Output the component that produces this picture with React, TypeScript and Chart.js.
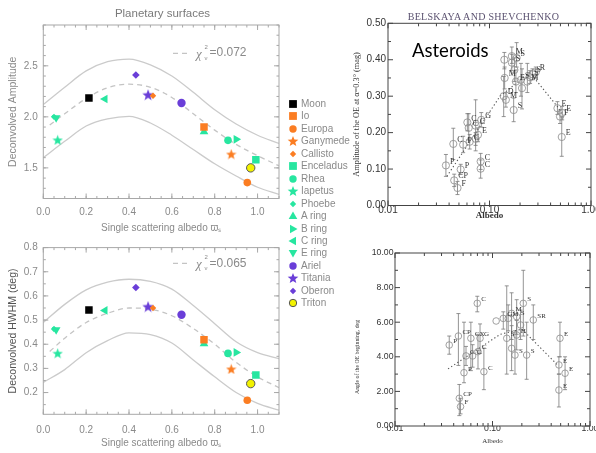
import React, { useEffect, useRef } from 'react';
import { Chart, registerables } from 'chart.js';
Chart.register(...registerables);

// ---------------- DATA ----------------
const bodyNames = ['Moon', 'Io', 'Europa', 'Ganymede', 'Callisto', 'Enceladus', 'Rhea', 'Iapetus', 'Phoebe', 'A ring', 'B ring', 'C ring', 'E ring', 'Ariel', 'Titania', 'Oberon', 'Triton'];
const bodyAlbedo = [0.213, 0.75, 0.952, 0.877, 0.512, 0.992, 0.862, 0.067, 0.05, 0.75, 0.9, 0.288, 0.06, 0.645, 0.489, 0.432, 0.968];
const bodyAmplitude = [2.185, 1.9, 1.356, 1.636, 2.207, 1.58, 1.77, 1.775, 2.0, 1.855, 1.78, 2.175, 1.99, 2.136, 2.217, 2.41, 1.5];
const bodyHwhm = [0.542, 0.419, 0.168, 0.298, 0.55, 0.273, 0.362, 0.363, 0.463, 0.402, 0.366, 0.54, 0.46, 0.522, 0.556, 0.635, 0.237];

const envX = [0, 0.1, 0.2, 0.3, 0.4, 0.5, 0.6, 0.7, 0.8, 0.9, 1.0, 1.1];
const fitX = [0.03, 0.1, 0.2, 0.3, 0.4, 0.5, 0.6, 0.7, 0.8, 0.9, 1.0, 1.1];
const ampUpper = [2.12, 2.29, 2.45, 2.54, 2.565, 2.51, 2.4, 2.24, 2.07, 1.93, 1.82, 1.74];
const ampLower = [1.6, 1.76, 1.91, 1.98, 2.005, 1.94, 1.82, 1.68, 1.54, 1.42, 1.31, 1.24];
const ampFit = [1.92, 2.03, 2.18, 2.285, 2.32, 2.29, 2.19, 2.03, 1.87, 1.73, 1.62, 1.52];
const hwhmUpper = [0.49, 0.565, 0.625, 0.657, 0.669, 0.66, 0.628, 0.56, 0.485, 0.41, 0.365, 0.34];
const hwhmLower = [0.242, 0.295, 0.365, 0.415, 0.447, 0.44, 0.405, 0.335, 0.265, 0.2, 0.155, 0.127];
const hwhmFit = [0.37, 0.425, 0.49, 0.528, 0.55, 0.545, 0.518, 0.465, 0.4, 0.325, 0.265, 0.22];

const leftXTicks = [0, 0.2, 0.4, 0.6, 0.8, 1.0];
const leftXLabels = ['0.0', '0.2', '0.4', '0.6', '0.8', '1.0'];
const ampTicks = [1.5, 2.0, 2.5];
const ampLabels = ['1.5', '2.0', '2.5'];
const hwhmTicks = [0.2, 0.3, 0.4, 0.5, 0.6, 0.7, 0.8];
const hwhmLabels = ['0.2', '0.3', '0.4', '0.5', '0.6', '0.7', '0.8'];

// Asteroids: amplitude of the opposition effect
const astAlbedo = [0.0372, 0.044, 0.0449, 0.0484, 0.052, 0.055, 0.0638, 0.0624, 0.0605, 0.073, 0.083, 0.077, 0.073, 0.0818, 0.0818, 0.138, 0.14, 0.141, 0.145, 0.166, 0.166, 0.176, 0.182, 0.173, 0.185, 0.204, 0.209, 0.236, 0.251, 0.265, 0.286, 0.467, 0.495, 0.52, 0.515];
const astAmp = [0.11, 0.169, 0.069, 0.048, 0.099, 0.167, 0.175, 0.213, 0.228, 0.219, 0.235, 0.194, 0.183, 0.121, 0.101, 0.3, 0.4, 0.35, 0.29, 0.41, 0.392, 0.372, 0.34, 0.262, 0.405, 0.345, 0.322, 0.34, 0.352, 0.36, 0.366, 0.267, 0.244, 0.254, 0.188];
const astAmpLo = [0.08, 0.126, 0.052, 0.03, 0.085, 0.145, 0.155, 0.18, 0.205, 0.15, 0.215, 0.175, 0.165, 0.099, 0.075, 0.244, 0.375, 0.32, 0.27, 0.39, 0.37, 0.34, 0.31, 0.23, 0.38, 0.3, 0.265, 0.31, 0.335, 0.345, 0.35, 0.25, 0.225, 0.235, 0.135];
const astAmpHi = [0.14, 0.212, 0.086, 0.066, 0.113, 0.19, 0.195, 0.252, 0.252, 0.29, 0.255, 0.213, 0.2, 0.143, 0.125, 0.354, 0.42, 0.38, 0.31, 0.435, 0.415, 0.405, 0.372, 0.295, 0.447, 0.39, 0.375, 0.39, 0.37, 0.375, 0.38, 0.285, 0.262, 0.272, 0.243];
const astAmpTag = ['P', 'C', 'CP', 'F', 'P', 'F', 'C', 'C', 'C', 'C', 'G', 'E', '', 'C', 'C', 'D', '', 'M', 'M', 'M', 'S', '', 'E', 'S', 'S', 'S', '', 'M', 'S', 'S', 'R', 'E', 'F', 'E', 'E'];
const ampTrendX = [0.038, 0.127, 0.25, 0.52];
const ampTrendY = [0.08, 0.3, 0.365, 0.255];

// Asteroids: angle of the opposition effect beginning
const angAlbedo = [0.036, 0.0447, 0.051, 0.0535, 0.0457, 0.047, 0.06, 0.0698, 0.0745, 0.071, 0.0816, 0.0625, 0.109, 0.129, 0.14, 0.145, 0.157, 0.157, 0.17, 0.177, 0.177, 0.207, 0.194, 0.224, 0.262, 0.492, 0.48, 0.555, 0.48];
const angValue = [4.68, 5.2, 3.08, 4.05, 1.6, 1.12, 5.07, 7.09, 5.07, 4.3, 3.14, 4.05, 6.07, 6.22, 5.07, 6.22, 6.51, 4.49, 4.1, 6.32, 5.26, 7.09, 5.84, 4.1, 6.13, 5.07, 3.53, 3.05, 2.08];
const angLo = [4.15, 3.5, 2.5, 3.5, 0.6, 0.7, 3.2, 6.6, 4.2, 3.3, 2.1, 3.4, 6.07, 5.6, 3.0, 5.5, 5.0, 3.2, 3.0, 5.3, 4.4, 5.2, 5.0, 2.7, 5.0, 4.0, 3.0, 2.1, 1.1];
const angHi = [5.2, 6.5, 6.0, 4.6, 2.4, 1.6, 6.0, 7.5, 5.9, 5.3, 4.5, 4.7, 6.07, 6.6, 8.1, 7.0, 7.7, 5.8, 5.5, 7.3, 6.1, 9.0, 6.7, 6.0, 7.0, 6.0, 4.0, 4.0, 3.0];
const angTag = ['P', 'CP', 'P', 'C', 'CP', 'F', 'CX', 'C', 'G', 'C', 'C', 'C', '', 'G', 'S', 'M', 'M', '', 'S', 'S', 'H', 'S', '', 'S', 'SR', 'E', 'E', 'E', 'E'];
const angTrendX = [0.035, 0.12, 0.2, 0.47];
const angTrendY = [3.3, 5.3, 5.6, 3.5];

const logTicks = [0.01, 0.1, 1];
const logLabels = ['0.01', '0.10', '1.00'];
const logMinor = [0.02, 0.03, 0.04, 0.05, 0.06, 0.07, 0.08, 0.09, 0.2, 0.3, 0.4, 0.5, 0.6, 0.7, 0.8, 0.9];
const astAmpTicks = [0, 0.1, 0.2, 0.3, 0.4, 0.5];
const astAmpLabels = ['0.00', '0.10', '0.20', '0.30', '0.40', '0.50'];
const angTicks = [0, 2, 4, 6, 8, 10];
const angLabels = ['0.00', '2.00', '4.00', '6.00', '8.00', '10.00'];

// ---------------- STYLES ----------------
const SANS = '"Liberation Sans", Arial, Helvetica, sans-serif';
const SERIF = '"Liberation Serif", "Times New Roman", serif';
const ORANGE = '#fb7d22';
const GREEN = '#27e6a0';
const PURPLE = '#6a3ed8';
const GRAYTXT = '#8a8a8a';
const bodyColor = ['#000000', ORANGE, ORANGE, ORANGE, ORANGE, GREEN, GREEN, GREEN, GREEN, GREEN, GREEN, GREEN, GREEN, PURPLE, PURPLE, PURPLE, '#f2f200'];
const bodyShape = ['square', 'square', 'circle', 'star', 'diamond', 'square', 'circle', 'star', 'diamond', 'triUp', 'triRight', 'triLeft', 'triDown', 'circle', 'star', 'diamond', 'circle'];

const pts = (xs: number[], ys: number[]) => xs.map((x, i) => ({ x, y: ys[i] }));

function starCanvas(d: number, color: string) {
  const c = document.createElement('canvas');
  c.width = d;
  c.height = d;
  const g = c.getContext('2d')!;
  const R = d / 2;
  const r = R * 0.42;
  g.beginPath();
  for (let k = 0; k < 10; k++) {
    const a = -Math.PI / 2 + (k * Math.PI) / 5;
    const rr = k % 2 ? r : R;
    g.lineTo(R + rr * Math.cos(a), R + 0.6 + rr * Math.sin(a));
  }
  g.closePath();
  g.fillStyle = color;
  g.fill();
  return c;
}

type Deco = {
  lines?: { x0: number; y0: number; x1: number; y1: number; color: string; width: number; dash?: number[] }[];
  texts?: { t: string; x: number; y: number; font: string; color: string; rot?: number; align?: CanvasTextAlign }[];
};

function decoPlugin(d: Deco) {
  return {
    id: 'deco',
    afterDraw(chart: any) {
      const ctx: CanvasRenderingContext2D = chart.ctx;
      ctx.save();
      (d.lines || []).forEach((l) => {
        ctx.beginPath();
        ctx.setLineDash(l.dash || []);
        ctx.strokeStyle = l.color;
        ctx.lineWidth = l.width;
        ctx.moveTo(l.x0, l.y0);
        ctx.lineTo(l.x1, l.y1);
        ctx.stroke();
      });
      ctx.setLineDash([]);
      (d.texts || []).forEach((t) => {
        ctx.save();
        ctx.translate(t.x, t.y);
        if (t.rot) ctx.rotate((t.rot * Math.PI) / 180);
        ctx.font = t.font;
        ctx.fillStyle = t.color;
        ctx.textAlign = t.align || 'left';
        ctx.textBaseline = 'middle';
        ctx.fillText(t.t, 0, 0);
        ctx.restore();
      });
      ctx.restore();
    },
  };
}

function framePlugin(f: { color: string; lw: number; xMajor: number[]; xMinor: number[]; yMajor: number[]; yMinor: number[]; major: number; minor: number }) {
  return {
    id: 'frame',
    afterDatasetsDraw(chart: any) {
      const { ctx, chartArea: a, scales } = chart;
      const x = scales.x;
      const y = scales.y;
      ctx.save();
      ctx.strokeStyle = f.color;
      ctx.lineWidth = f.lw;
      ctx.strokeRect(a.left, a.top, a.right - a.left, a.bottom - a.top);
      ctx.beginPath();
      const tx = (vals: number[], len: number) =>
        vals.forEach((v) => {
          const p = x.getPixelForValue(v);
          if (p < a.left - 0.5 || p > a.right + 0.5) return;
          ctx.moveTo(p, a.bottom);
          ctx.lineTo(p, a.bottom - len);
          ctx.moveTo(p, a.top);
          ctx.lineTo(p, a.top + len);
        });
      const ty = (vals: number[], len: number) =>
        vals.forEach((v) => {
          const p = y.getPixelForValue(v);
          if (p < a.top - 0.5 || p > a.bottom + 0.5) return;
          ctx.moveTo(a.left, p);
          ctx.lineTo(a.left + len, p);
          ctx.moveTo(a.right, p);
          ctx.lineTo(a.right - len, p);
        });
      tx(f.xMajor, f.major);
      tx(f.xMinor, f.minor);
      ty(f.yMajor, f.major);
      ty(f.yMinor, f.minor);
      ctx.stroke();
      ctx.restore();
    },
  };
}

function errPlugin(e: { xs: number[]; lo: number[]; hi: number[]; ys: number[]; tags: string[]; font: string; cap: number }) {
  return {
    id: 'errtags',
    beforeDatasetsDraw(chart: any) {
      const { ctx, scales } = chart;
      ctx.save();
      ctx.strokeStyle = '#7a7a7a';
      ctx.lineWidth = 0.8;
      ctx.beginPath();
      e.xs.forEach((xv, i) => {
        if (e.lo[i] === e.hi[i]) return;
        const px = scales.x.getPixelForValue(xv);
        const pl = scales.y.getPixelForValue(e.lo[i]);
        const ph = scales.y.getPixelForValue(e.hi[i]);
        ctx.moveTo(px, pl);
        ctx.lineTo(px, ph);
        ctx.moveTo(px - e.cap, pl);
        ctx.lineTo(px + e.cap, pl);
        ctx.moveTo(px - e.cap, ph);
        ctx.lineTo(px + e.cap, ph);
      });
      ctx.stroke();
      ctx.restore();
    },
    afterDatasetsDraw(chart: any) {
      const { ctx, scales } = chart;
      ctx.save();
      ctx.fillStyle = '#333';
      ctx.font = e.font;
      ctx.textBaseline = 'middle';
      e.xs.forEach((xv, i) => {
        if (!e.tags[i]) return;
        const px = scales.x.getPixelForValue(xv);
        const py = scales.y.getPixelForValue(e.ys[i]);
        ctx.fillText(e.tags[i], px + 4, py - 4);
      });
      ctx.restore();
    },
  };
}

function bodyDatasets(values: number[]) {
  return bodyNames.map((name, i) => {
    const shape = bodyShape[i];
    const color = bodyColor[i];
    let pointStyle: any = 'circle';
    let radius = 3.8;
    let rotation = 0;
    if (shape === 'square') { pointStyle = 'rect'; radius = 5.3; }
    else if (shape === 'circle') { radius = name === 'Ariel' || name === 'Triton' ? 4.2 : 3.8; }
    else if (shape === 'star') { pointStyle = starCanvas(name === 'Titania' ? 12 : 11, color); radius = 5; }
    else if (shape === 'diamond') { pointStyle = 'rectRot'; radius = name === 'Oberon' ? 3.8 : 3.2; }
    else if (shape === 'triUp') { pointStyle = 'triangle'; radius = 5; }
    else if (shape === 'triRight') { pointStyle = 'triangle'; radius = 5; rotation = 90; }
    else if (shape === 'triLeft') { pointStyle = 'triangle'; radius = 5; rotation = 270; }
    else if (shape === 'triDown') { pointStyle = 'triangle'; radius = 5; rotation = 180; }
    return {
      label: name,
      data: [{ x: bodyAlbedo[i], y: values[i] }],
      pointStyle,
      pointRadius: radius,
      pointRotation: rotation,
      backgroundColor: color,
      borderColor: name === 'Triton' ? '#555' : color,
      borderWidth: name === 'Triton' ? 1 : 0,
    };
  });
}

function curveSets(upper: number[], lower: number[], fit: number[]) {
  const base = { showLine: true, pointRadius: 0, cubicInterpolationMode: 'monotone', fill: false };
  return [
    { ...base, data: pts(fitX, fit), borderColor: '#c4c4c4', borderWidth: 1.3, borderDash: [5, 4] },
    { ...base, data: pts(envX, upper), borderColor: '#cbcbcb', borderWidth: 1.3 },
    { ...base, data: pts(envX, lower), borderColor: '#cbcbcb', borderWidth: 1.3 },
  ];
}

function minorRange(a: number, b: number, step: number) {
  const out: number[] = [];
  for (let v = a; v <= b + 1e-9; v += step) out.push(Math.round(v * 1000) / 1000);
  return out;
}

function leftConfig(kind: 'amp' | 'hwhm') {
  const isAmp = kind === 'amp';
  const values = isAmp ? bodyAmplitude : bodyHwhm;
  const yTicks = isAmp ? ampTicks : hwhmTicks;
  const yLabels = isAmp ? ampLabels : hwhmLabels;
  const deco: Deco = isAmp
    ? {
        lines: [{ x0: 173, y0: 53.3, x1: 191, y1: 53.3, color: '#c4c4c4', width: 1.3, dash: [5, 4] }],
        texts: [
          { t: 'χ', x: 196, y: 54.5, font: `italic 13px ${SERIF}`, color: GRAYTXT },
          { t: '2', x: 204.5, y: 47.5, font: `6px ${SANS}`, color: GRAYTXT },
          { t: 'ν', x: 204.5, y: 58, font: `6px ${SANS}`, color: GRAYTXT },
          { t: '=0.072', x: 209.5, y: 53, font: `12px ${SANS}`, color: GRAYTXT },
        ],
      }
    : {
        lines: [{ x0: 173, y0: 27.3, x1: 191, y1: 27.3, color: '#c4c4c4', width: 1.3, dash: [5, 4] }],
        texts: [
          { t: 'χ', x: 196, y: 28.5, font: `italic 13px ${SERIF}`, color: GRAYTXT },
          { t: '2', x: 204.5, y: 21.5, font: `6px ${SANS}`, color: GRAYTXT },
          { t: 'ν', x: 204.5, y: 32, font: `6px ${SANS}`, color: GRAYTXT },
          { t: '=0.065', x: 209.5, y: 27.3, font: `12px ${SANS}`, color: GRAYTXT },
        ],
      };
  return {
    type: 'scatter',
    data: { datasets: [...bodyDatasets(values), ...curveSets(isAmp ? ampUpper : hwhmUpper, isAmp ? ampLower : hwhmLower, isAmp ? ampFit : hwhmFit)] },
    options: {
      responsive: false,
      animation: false,
      devicePixelRatio: 1,
      events: [],
      layout: { padding: { left: 0, top: isAmp ? 25 : 4.7, right: 11, bottom: 0 } },
      plugins: { legend: { display: false }, tooltip: { enabled: false } },
      scales: {
        x: {
          type: 'linear',
          min: 0,
          max: 1.1,
          afterBuildTicks: (s: any) => { s.ticks = leftXTicks.map((v) => ({ value: v })); },
          afterFit: (s: any) => { s.height = isAmp ? 37.5 : 35.7; },
          grid: { display: false, drawTicks: false },
          border: { display: false },
          ticks: { autoSkip: false, maxRotation: 0, padding: isAmp ? 7.5 : 9.7, color: GRAYTXT, font: { family: SANS, size: 10 }, callback: (_v: any, i: number) => leftXLabels[i] },
          title: { display: true, text: 'Single scattering albedo ϖₛ', color: GRAYTXT, font: { family: SANS, size: 10 }, padding: { top: 0, bottom: isAmp ? 2 : 0.7 } },
        },
        y: {
          type: 'linear',
          min: isAmp ? 1.2 : 0.11,
          max: isAmp ? 2.9 : 0.8,
          afterBuildTicks: (s: any) => { s.ticks = yTicks.map((v) => ({ value: v })); },
          afterFit: (s: any) => { s.width = 43.3; },
          grid: { display: false, drawTicks: false },
          border: { display: false },
          ticks: { autoSkip: false, padding: 5.6, color: GRAYTXT, font: { family: SANS, size: 10 }, callback: (_v: any, i: number) => yLabels[i] },
          title: { display: true, text: isAmp ? 'Deconvolved Amplitude' : 'Deconvolved HWHM (deg)', color: isAmp ? GRAYTXT : '#555', font: { family: SANS, size: 10.5 }, padding: { top: 7, bottom: 0 } },
        },
      },
    },
    plugins: [
      framePlugin({
        color: '#a8a8a8',
        lw: 1,
        xMajor: leftXTicks,
        xMinor: minorRange(0, 1.1, 0.05),
        yMajor: yTicks,
        yMinor: isAmp ? minorRange(1.2, 2.9, 0.1) : minorRange(0.15, 0.8, 0.05),
        major: 5,
        minor: 2.5,
      }),
      decoPlugin(deco),
    ],
  };
}

function rightConfig(kind: 'amp' | 'ang') {
  const isAmp = kind === 'amp';
  const xs = isAmp ? astAlbedo : angAlbedo;
  const ys = isAmp ? astAmp : angValue;
  const yTicks = isAmp ? astAmpTicks : angTicks;
  const yLabels = isAmp ? astAmpLabels : angLabels;
  const tickSize = isAmp ? 10 : 8.7;
  return {
    type: 'scatter',
    data: {
      datasets: [
        { data: pts(xs, ys), pointStyle: 'circle', pointRadius: isAmp ? 3.6 : 3.3, borderColor: '#8a8a8a', backgroundColor: 'rgba(255,255,255,0)', borderWidth: 0.8 },
        { data: pts(isAmp ? ampTrendX : angTrendX, isAmp ? ampTrendY : angTrendY), showLine: true, pointRadius: 0, borderColor: '#555', borderWidth: 1.1, borderDash: [1.3, 2.4] },
      ],
    },
    options: {
      responsive: false,
      animation: false,
      devicePixelRatio: 1,
      events: [],
      layout: { padding: isAmp ? { left: 50, top: 23.3, right: 39, bottom: 0 } : { left: 58, top: 17, right: 40, bottom: 0 } },
      plugins: { legend: { display: false }, tooltip: { enabled: false } },
      scales: {
        x: {
          type: 'logarithmic',
          min: 0.01,
          max: 1,
          afterBuildTicks: (s: any) => { s.ticks = logTicks.map((v) => ({ value: v })); },
          afterFit: (s: any) => { s.height = isAmp ? 16.5 : 24; },
          grid: { display: false, drawTicks: false },
          border: { display: false },
          ticks: { autoSkip: false, maxRotation: 0, padding: isAmp ? -1.5 : -2.6, color: '#333', font: { family: SANS, size: tickSize }, callback: (_v: any, i: number) => logLabels[i] },
          title: { display: true, text: 'Albedo', color: '#333', font: { family: SERIF, size: isAmp ? 9 : 7, weight: isAmp ? 'bold' : 'normal' }, padding: { top: 0, bottom: isAmp ? 0.6 : 4.8 } },
        },
        y: {
          type: 'linear',
          min: 0,
          max: isAmp ? 0.5 : 10,
          afterBuildTicks: (s: any) => { s.ticks = yTicks.map((v) => ({ value: v })); },
          afterFit: (s: any) => { s.width = isAmp ? 38 : 37; },
          grid: { display: false, drawTicks: false },
          border: { display: false },
          ticks: { autoSkip: false, padding: isAmp ? 2 : 1.5, color: '#333', font: { family: SANS, size: tickSize }, callback: (_v: any, i: number) => yLabels[i] },
          title: { display: isAmp, text: 'Amplitude of the OE at α=0.3° (mag)', color: '#333', font: { family: SERIF, size: 8.3 }, padding: { top: 2, bottom: 0 } },
        },
      },
    },
    plugins: [
      framePlugin({
        color: '#444',
        lw: 1,
        xMajor: logTicks,
        xMinor: logMinor,
        yMajor: yTicks,
        yMinor: isAmp ? minorRange(0.05, 0.45, 0.1) : minorRange(1, 9, 2),
        major: 5,
        minor: 3,
      }),
      errPlugin({ xs, ys, lo: isAmp ? astAmpLo : angLo, hi: isAmp ? astAmpHi : angHi, tags: isAmp ? astAmpTag : angTag, font: `${isAmp ? 8 : 7}px ${SERIF}`, cap: 2 }),
      decoPlugin(
        isAmp
          ? {}
          : { texts: [{ t: 'Angle of the OE beginning, deg', x: 57.3, y: 121, rot: -90, font: `5.8px ${SERIF}`, color: '#333', align: 'center' }] }
      ),
    ],
  };
}

function ChartBox({ left, top, width, height, make }: { left: number; top: number; width: number; height: number; make: () => any }) {
  const ref = useRef<HTMLCanvasElement>(null);
  useEffect(() => {
    const chart = new Chart(ref.current as HTMLCanvasElement, make());
    return () => chart.destroy();
  }, []);
  return (
    <div style={{ position: 'absolute', left, top, width, height }}>
      <canvas ref={ref} width={width} height={height} style={{ width, height, display: 'block' }} />
    </div>
  );
}

function starPoints(cx: number, cy: number, R: number, r: number) {
  const p: string[] = [];
  for (let k = 0; k < 10; k++) {
    const a = -Math.PI / 2 + (k * Math.PI) / 5;
    const rr = k % 2 ? r : R;
    p.push(`${(cx + rr * Math.cos(a)).toFixed(2)},${(cy + rr * Math.sin(a)).toFixed(2)}`);
  }
  return p.join(' ');
}

function Marker({ shape, color, outline }: { shape: string; color: string; outline?: string }) {
  if (shape === 'square') return <rect x={2.1} y={2.1} width={7.8} height={7.8} fill={color} />;
  if (shape === 'circle') return <circle cx={6} cy={6} r={3.7} fill={color} stroke={outline || 'none'} strokeWidth={outline ? 1 : 0} />;
  if (shape === 'star') return <polygon points={starPoints(6, 6.5, 5.6, 2.4)} fill={color} />;
  if (shape === 'diamond') return <polygon points="6,2.7 9.2,6 6,9.3 2.8,6" fill={color} />;
  if (shape === 'triUp') return <polygon points="6,1.5 10.3,9 1.7,9" fill={color} />;
  if (shape === 'triRight') return <polygon points="10.5,6 3,1.7 3,10.3" fill={color} />;
  if (shape === 'triLeft') return <polygon points="1.5,6 9,1.7 9,10.3" fill={color} />;
  return <polygon points="6,10.5 1.7,3 10.3,3" fill={color} />;
}

function Legend() {
  return (
    <>
      {bodyNames.map((n, i) => {
        const cy = 104 + i * 12.45;
        return (
          <React.Fragment key={n}>
            <svg style={{ position: 'absolute', left: 287, top: cy - 6 }} width={12} height={12}>
              <Marker shape={bodyShape[i]} color={bodyColor[i]} outline={n === 'Triton' ? '#555' : undefined} />
            </svg>
            <div style={{ position: 'absolute', left: 301, top: cy - 7, height: 14, lineHeight: '14px', fontSize: 10, color: GRAYTXT, fontFamily: SANS, whiteSpace: 'nowrap' }}>{n}</div>
          </React.Fragment>
        );
      })}
    </>
  );
}

function Label({ x, y, text, style }: { x: number; y: number; text: string; style: React.CSSProperties }) {
  return (
    <div style={{ position: 'absolute', left: x, top: y, transform: 'translate(-50%, -50%)', whiteSpace: 'nowrap', lineHeight: 1, ...style }}>{text}</div>
  );
}

export default function App() {
  return (
    <div style={{ position: 'fixed', left: 0, top: 0, width: 596, height: 453, overflow: 'hidden', background: '#fff' }}>
      <ChartBox left={0} top={0} width={290} height={236} make={() => leftConfig('amp')} />
      <ChartBox left={0} top={236} width={290} height={214} make={() => leftConfig('hwhm')} />
      <ChartBox left={300} top={0} width={330} height={222} make={() => rightConfig('amp')} />
      <ChartBox left={300} top={236} width={330} height={214} make={() => rightConfig('ang')} />
      <Label x={162.5} y={14} text="Planetary surfaces" style={{ fontFamily: SANS, fontSize: 11.5, color: '#7a7a7a' }} />
      <Label x={483.5} y={16.5} text="BELSKAYA AND SHEVCHENKO" style={{ fontFamily: SERIF, fontSize: 10, color: '#5b5270', letterSpacing: 0.3 }} />
      <div style={{ position: 'absolute', left: 412, top: 39, fontFamily: 'Lato, "Open Sans", sans-serif', fontSize: 18.5, lineHeight: '22px', color: '#000', whiteSpace: 'nowrap' }}>Asteroids</div>
      <Legend />
    </div>
  );
}
